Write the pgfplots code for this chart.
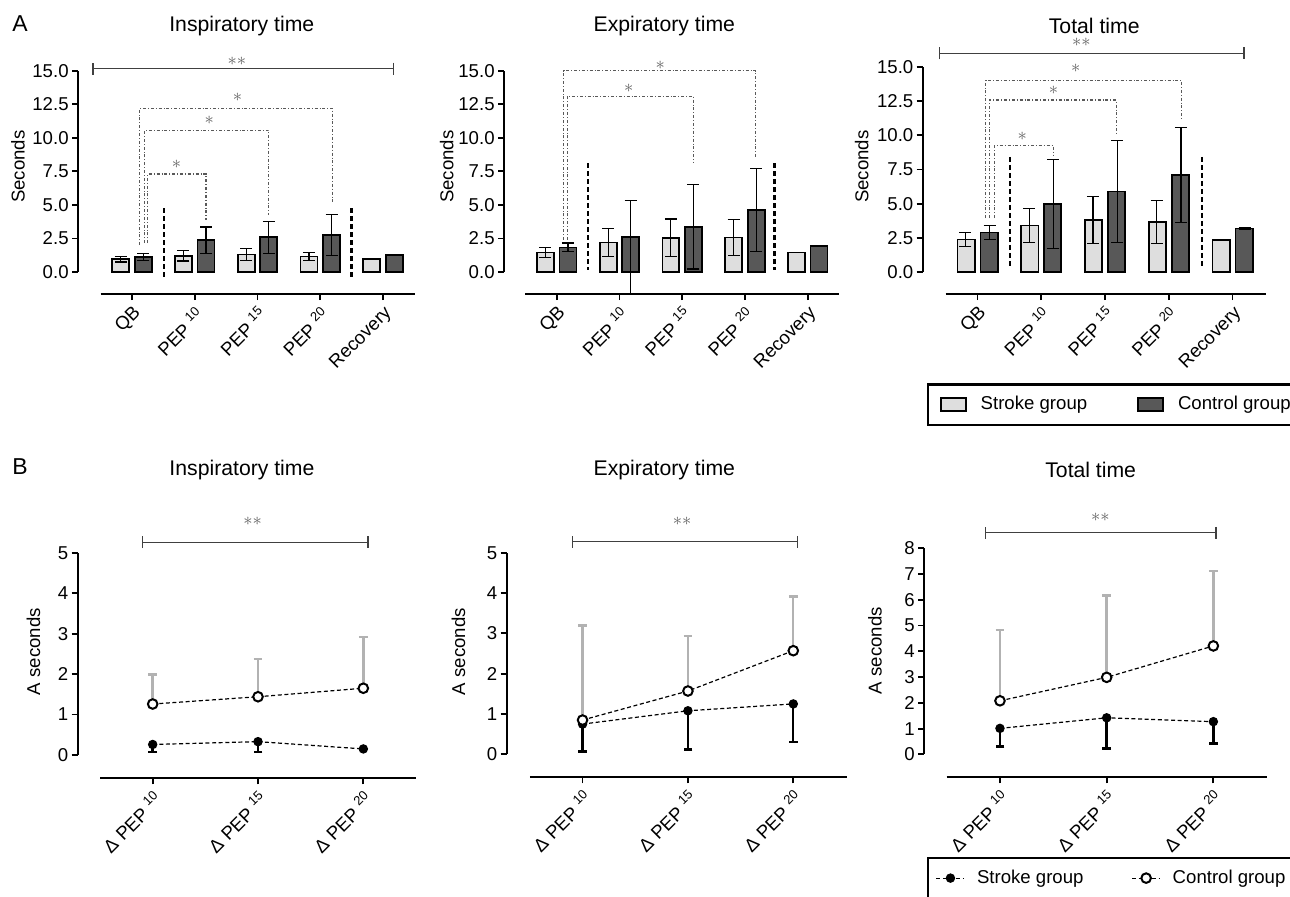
\documentclass[border=0pt]{standalone}
\usepackage{fontspec}
\setmainfont{Liberation Sans}
\usepackage{pgfplots}
\usepackage{pgfplotstable}
\pgfplotsset{compat=1.18}
\usetikzlibrary{arrows.meta}
\definecolor{lightfill}{RGB}{222,222,222}
\definecolor{darkfill}{RGB}{88,88,88}
\definecolor{errgray}{RGB}{178,178,178}
\newcommand\tfont{\fontsize{9.3}{10}\selectfont}
\newcommand\titlefont{\fontsize{10.6}{12}\selectfont}

% ---------- data ----------
\pgfplotstableread{
x y e
0 0.95 0.20
1 1.22 0.40
2 1.30 0.45
3 1.15 0.32
4 0.95 0.00
}\AoneS
\pgfplotstableread{
x y e
0 1.12 0.28
1 2.38 0.98
2 2.58 1.18
3 2.75 1.53
4 1.28 0.05
}\AoneC
\pgfplotstableread{
x y e
0 1.45 0.35
1 2.20 1.03
2 2.55 1.40
3 2.57 1.33
4 1.45 0.00
}\AtwoS
\pgfplotstableread{
x y ep em
0 1.83 0.33 0.33
1 2.63 2.67 4.27
2 3.38 3.16 3.16
3 4.64 3.10 3.10
4 1.96 0.00 0.00
}\AtwoC
\pgfplotstableread{
x y e
0 2.40 0.52
1 3.42 1.25
2 3.82 1.70
3 3.67 1.55
4 2.38 0.00
}\AthreeS
\pgfplotstableread{
x y e
0 2.90 0.53
1 5.00 3.25
2 5.90 3.70
3 7.12 3.47
4 3.20 0.08
}\AthreeC
\pgfplotstableread{
x y e
0 0.26 0.19
1 0.33 0.25
2 0.15 0.00
}\BoneS
\pgfplotstableread{
x y e
0 1.26 0.73
1 1.44 0.94
2 1.65 1.27
}\BoneC
\pgfplotstableread{
x y e
0 0.75 0.68
1 1.08 0.96
2 1.25 0.95
}\BtwoS
\pgfplotstableread{
x y e
0 0.85 2.34
1 1.57 1.36
2 2.57 1.34
}\BtwoC
\pgfplotstableread{
x y e
0 1.01 0.71
1 1.42 1.19
2 1.27 0.84
}\BthreeS
\pgfplotstableread{
x y e
0 2.08 2.75
1 2.99 3.17
2 4.21 2.91
}\BthreeC

\pgfplotsset{
  panel/.style={scale only axis, clip=false, anchor=south west,
    axis x line*=bottom, axis y line*=left, axis line style={draw=none},
    tick align=outside, major tick length=3pt,
    tick style={black, line width=0.9pt},
    tick label style={font=\tfont, black, /pgf/number format/assume math mode=true},
    label style={font=\tfont},
    title style={font=\titlefont},
    xticklabel style={rotate=45, anchor=north east, inner sep=1.5pt},
    yticklabel style={inner sep=1.5pt}},
  barpanel/.style={panel, xtick={0,1,2,3,4},
    xticklabels={QB,PEP \textsuperscript{10},PEP \textsuperscript{15},PEP \textsuperscript{20},Recovery},
    ytick={0,2.5,5,7.5,10,12.5,15},
    yticklabels={0.0,2.5,5.0,7.5,10.0,12.5,15.0},
    ylabel={Seconds}, ymax=15},
  linepanel/.style={panel, xtick={0,1,2},
    xticklabels={Δ PEP \textsuperscript{10},Δ PEP \textsuperscript{15},Δ PEP \textsuperscript{20}},
    ylabel={A seconds}},
  barleg/.style={legend image code/.code={\draw[##1] (0pt,-3.3pt) rectangle (12.5pt,3.3pt);}},
  lineleg/.style={legend image code/.code={\draw[mark repeat=2,mark phase=2,##1] plot coordinates {(0pt,0pt) (7pt,0pt) (14pt,0pt)};}},
  strokebar/.style={ybar, bar width=0.27, bar shift=-0.18, fill=lightfill, draw=black, line width=0.9pt, mark=none, barleg},
  controlbar/.style={ybar, bar width=0.27, bar shift=0.18, fill=darkfill, draw=black, line width=0.9pt, mark=none, barleg},
  errA/.style={draw=none, mark=none, forget plot,
    error bars/.cd, y dir=both, y explicit, error bar style={draw=black, line width=0.6pt},
    error mark options={draw=black, rotate=90, mark size=3pt, line width=0.6pt}},
  sline/.style={black, line width=0.6pt, dash pattern=on 2pt off 1.3pt, mark=*, mark size=2.1pt,
    mark options={solid, fill=black, line width=0.5pt}, lineleg},
  cline/.style={black, line width=0.6pt, dash pattern=on 2pt off 1.3pt, mark=*, mark size=2.4pt,
    mark options={solid, fill=white, draw=black, line width=1pt}, lineleg},
  serr/.style={draw=none, mark=none, forget plot,
    error bars/.cd, y dir=minus, y explicit, error bar style={draw=black, line width=1.2pt, solid},
    error mark options={draw=black, rotate=90, mark size=2.2pt, line width=1.2pt}},
  cerr/.style={draw=none, mark=none, forget plot,
    error bars/.cd, y dir=plus, y explicit, error bar style={draw=errgray, line width=1.2pt, solid},
    error mark options={draw=errgray, rotate=90, mark size=2.2pt, line width=1.2pt}},
}
\tikzset{
  sepline/.style={line width=1.35pt, dash pattern=on 2.5pt off 1.5pt},
  bracket/.style={line width=0.55pt, draw=black!65, dash pattern=on 1.5pt off 1pt on 0.4pt off 1pt},
  sigbar/.style={line width=0.6pt, draw=black!75, {Bar[width=6pt]}-{Bar[width=6pt]}},
  star/.style={text=black!60, font=\fontsize{9}{9}\selectfont, inner sep=0pt},
}

\begin{document}
\begin{tikzpicture}
\node[font=\fontsize{11.5}{12}\selectfont] at (10pt,436pt) {A};
\node[font=\fontsize{11.5}{12}\selectfont] at (10pt,214.5pt) {B};

% ===== A1 =====
\begin{axis}[barpanel, at={(39pt,301pt)}, width=168.5pt, height=111.65pt,
  xmin=-0.86, xmax=4.51, ymin=-1.64,
  title={Inspiratory time}, title style={at={(axis description cs:0.486,1.1465)}, anchor=center},
  ylabel style={at={(axis description cs:-0.178,0.57)}, anchor=center}]
\addplot[strokebar] table[x=x, y=y] {\AoneS};
\addplot[controlbar] table[x=x, y=y] {\AoneC};
\addplot[errA] table[x expr=\thisrow{x}-0.18, y=y, y error=e] {\AoneS};
\addplot[errA] table[x expr=\thisrow{x}+0.18, y=y, y error=e] {\AoneC};
\draw[line width=1pt] (axis cs:-0.5,-1.64) -- (axis cs:4.51,-1.64);
\draw[line width=1pt] (axis cs:-0.86,0) -- (axis cs:-0.86,15);
\draw[sepline] (axis cs:0.51,4.75) -- (axis cs:0.51,-0.45);
\draw[sepline] (axis cs:3.5,4.75) -- (axis cs:3.5,-0.45);
\draw[sigbar] (axis cs:-0.63,15.15) -- (axis cs:4.18,15.15);
\node[star] at (axis cs:1.67,15.7) {$\ast\ast$};
\draw[bracket] (axis cs:0.12,2.0) -- (axis cs:0.12,12.2) -- (axis cs:3.2,12.2) -- (axis cs:3.2,5.1);
\draw[bracket] (axis cs:0.2,2.15) -- (axis cs:0.2,10.55) -- (axis cs:2.18,10.55) -- (axis cs:2.18,4.25);
\draw[bracket] (axis cs:0.25,2.15) -- (axis cs:0.25,7.3) -- (axis cs:1.18,7.3) -- (axis cs:1.18,3.9);
\node[star] at (axis cs:1.68,13.0) {$\ast$};
\node[star] at (axis cs:1.23,11.3) {$\ast$};
\node[star] at (axis cs:0.71,8.0) {$\ast$};
\end{axis}

% ===== A2 =====
\begin{axis}[barpanel, at={(252pt,301pt)}, width=167.5pt, height=111.65pt,
  xmin=-0.84, xmax=4.50, ymin=-1.64,
  title={Expiratory time}, title style={at={(axis description cs:0.4785,1.1465)}, anchor=center},
  ylabel style={at={(axis description cs:-0.171,0.57)}, anchor=center}]
\addplot[strokebar] table[x=x, y=y] {\AtwoS};
\addplot[controlbar] table[x=x, y=y] {\AtwoC};
\addplot[errA] table[x expr=\thisrow{x}-0.18, y=y, y error=e] {\AtwoS};
\addplot[errA] table[x expr=\thisrow{x}+0.18, y=y, y error plus=ep, y error minus=em] {\AtwoC};
\draw[line width=1pt] (axis cs:-0.5,-1.64) -- (axis cs:4.50,-1.64);
\draw[line width=1pt] (axis cs:-0.84,0) -- (axis cs:-0.84,15);
\draw[sepline] (axis cs:0.5,8.1) -- (axis cs:0.5,0.15);
\draw[sepline] (axis cs:3.47,8.1) -- (axis cs:3.47,0.15);
\draw[bracket] (axis cs:0.11,2.4) -- (axis cs:0.11,15.0) -- (axis cs:3.17,15.0) -- (axis cs:3.17,8.6);
\draw[bracket] (axis cs:0.17,2.4) -- (axis cs:0.17,13.1) -- (axis cs:2.18,13.1) -- (axis cs:2.18,8.1);
\node[star] at (axis cs:1.65,15.4) {$\ast$};
\node[star] at (axis cs:1.15,13.7) {$\ast$};
\end{axis}

% ===== A3 =====
\begin{axis}[barpanel, at={(461.35pt,301pt)}, width=171.5pt, height=113.65pt,
  xmin=-0.86, xmax=4.52, ymin=-1.58,
  title={Total time}, title style={at={(axis description cs:0.5,1.126)}, anchor=center},
  ylabel style={at={(axis description cs:-0.178,0.56)}, anchor=center},
  legend style={at={(axis description cs:0.012,-0.393)}, anchor=north west, draw=black,
    line width=1.1pt, fill=white, font=\tfont, legend columns=2, inner xsep=6pt, inner ysep=4pt,
    /tikz/every odd column/.append style={column sep=5pt},
    /tikz/every even column/.append style={column sep=23pt}},
  legend cell align=left]
\addplot[strokebar] table[x=x, y=y] {\AthreeS};
\addlegendentry{Stroke group}
\addplot[controlbar] table[x=x, y=y] {\AthreeC};
\addlegendentry{Control group}
\addplot[errA] table[x expr=\thisrow{x}-0.19, y=y, y error=e] {\AthreeS};
\addplot[errA] table[x expr=\thisrow{x}+0.19, y=y, y error=e] {\AthreeC};
\draw[line width=1pt] (axis cs:-0.5,-1.58) -- (axis cs:4.52,-1.58);
\draw[line width=1pt] (axis cs:-0.86,0) -- (axis cs:-0.86,15);
\draw[sepline] (axis cs:0.51,8.43) -- (axis cs:0.51,0.4);
\draw[sepline] (axis cs:3.52,8.43) -- (axis cs:3.52,0.4);
\draw[sigbar] (axis cs:-0.61,15.97) -- (axis cs:4.19,15.97);
\node[star] at (axis cs:1.63,16.75) {$\ast\ast$};
\draw[bracket] (axis cs:0.125,3.95) -- (axis cs:0.125,14.0) -- (axis cs:3.2,14.0) -- (axis cs:3.2,11.1);
\draw[bracket] (axis cs:0.19,3.95) -- (axis cs:0.19,12.57) -- (axis cs:2.18,12.57) -- (axis cs:2.18,10.0);
\draw[bracket] (axis cs:0.26,3.95) -- (axis cs:0.26,9.23) -- (axis cs:1.19,9.23) -- (axis cs:1.19,8.55);
\node[star] at (axis cs:1.54,14.9) {$\ast$};
\node[star] at (axis cs:1.19,13.25) {$\ast$};
\node[star] at (axis cs:0.7,9.94) {$\ast$};
\end{axis}

% ===== B1 =====
\begin{axis}[linepanel, at={(38.85pt,58.85pt)}, width=169.15pt, height=112.8pt,
  xmin=-0.712, xmax=2.5, ymin=-0.576, ymax=5, ytick={0,1,2,3,4,5},
  title={Inspiratory time}, title style={at={(axis description cs:0.4855,1.312)}, anchor=center},
  ylabel style={at={(axis description cs:-0.131,0.561)}, anchor=center}]
\addplot[serr] table[x=x, y=y, y error=e] {\BoneS};
\addplot[cerr] table[x=x, y=y, y error=e] {\BoneC};
\addplot[sline] table[x=x, y=y] {\BoneS};
\addplot[cline] table[x=x, y=y] {\BoneC};
\draw[line width=1pt] (axis cs:-0.5,-0.576) -- (axis cs:2.5,-0.576);
\draw[line width=1pt] (axis cs:-0.712,0) -- (axis cs:-0.712,5);
\draw[sigbar] (axis cs:-0.1,5.26) -- (axis cs:2.05,5.26);
\node[star] at (axis cs:0.95,5.77) {$\ast\ast$};
\end{axis}

% ===== B2 =====
\begin{axis}[linepanel, at={(253.35pt,59.35pt)}, width=170pt, height=112.3pt,
  xmin=-0.72, xmax=2.507, ymin=-0.57, ymax=5, ytick={0,1,2,3,4,5},
  title={Expiratory time}, title style={at={(axis description cs:0.4635,1.313)}, anchor=center},
  ylabel style={at={(axis description cs:-0.142,0.559)}, anchor=center}]
\addplot[serr] table[x=x, y=y, y error=e] {\BtwoS};
\addplot[cerr] table[x=x, y=y, y error=e] {\BtwoC};
\addplot[sline] table[x=x, y=y] {\BtwoS};
\addplot[cline] table[x=x, y=y] {\BtwoC};
\draw[line width=1pt] (axis cs:-0.5,-0.57) -- (axis cs:2.507,-0.57);
\draw[line width=1pt] (axis cs:-0.72,0) -- (axis cs:-0.72,5);
\draw[sigbar] (axis cs:-0.104,5.27) -- (axis cs:2.047,5.27);
\node[star] at (axis cs:0.946,5.77) {$\ast\ast$};
\end{axis}

% ===== B3 =====
\begin{axis}[linepanel, at={(462pt,59.35pt)}, width=171.35pt, height=114.5pt,
  xmin=-0.712, xmax=2.5, ymin=-0.89, ymax=8, ytick={0,1,2,3,4,5,6,7,8},
  title={Total time}, title style={at={(axis description cs:0.4864,1.288)}, anchor=center},
  ylabel style={at={(axis description cs:-0.143,0.553)}, anchor=center},
  legend style={at={(axis description cs:0.008,-0.347)}, anchor=north west, draw=black,
    line width=1.1pt, fill=white, font=\tfont, legend columns=2, inner xsep=4pt, inner ysep=4pt,
    /tikz/every odd column/.append style={column sep=4pt},
    /tikz/every even column/.append style={column sep=22pt}},
  legend cell align=left]
\addplot[serr] table[x=x, y=y, y error=e] {\BthreeS};
\addplot[cerr] table[x=x, y=y, y error=e] {\BthreeC};
\addplot[sline] table[x=x, y=y] {\BthreeS};
\addlegendentry{Stroke group}
\addplot[cline] table[x=x, y=y] {\BthreeC};
\addlegendentry{Control group}
\draw[line width=1pt] (axis cs:-0.5,-0.89) -- (axis cs:2.5,-0.89);
\draw[line width=1pt] (axis cs:-0.712,0) -- (axis cs:-0.712,8);
\draw[sigbar] (axis cs:-0.14,8.6) -- (axis cs:2.03,8.6);
\node[star] at (axis cs:0.94,9.2) {$\ast\ast$};
\end{axis}

\pgfresetboundingbox
\path[use as bounding box] (0,0) rectangle (645pt,448pt);
\end{tikzpicture}
\end{document}
